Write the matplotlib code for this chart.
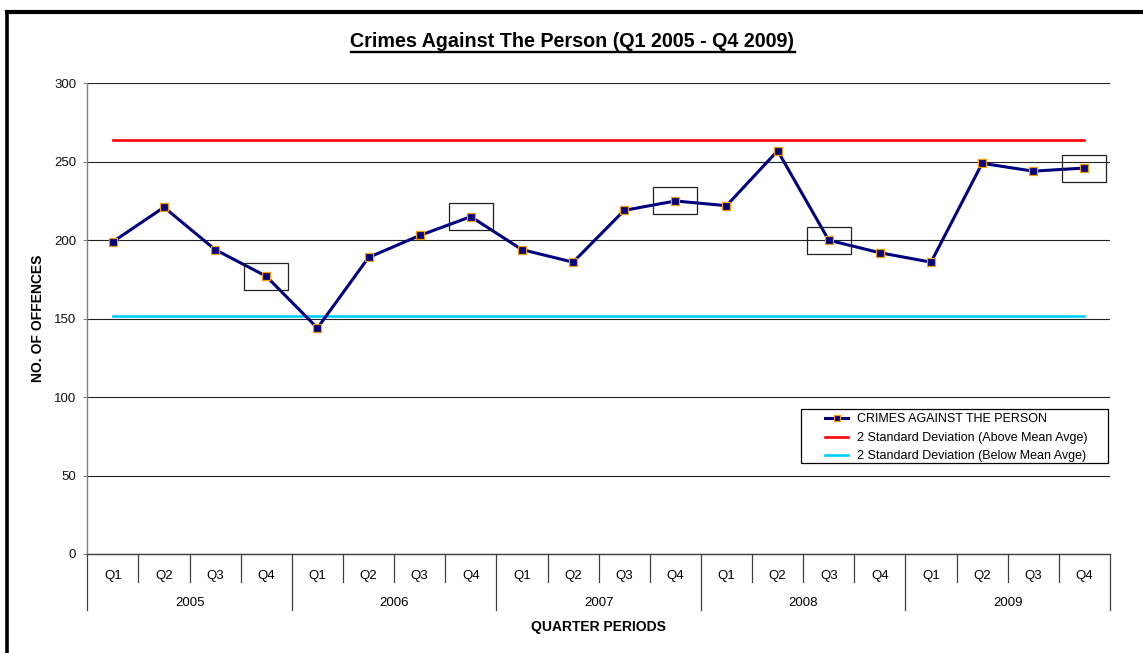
import matplotlib
matplotlib.use("Agg")
import matplotlib.pyplot as plt
from matplotlib.patches import Rectangle
from matplotlib.lines import Line2D

plt.rcParams['font.family'] = ['Liberation Sans', 'DejaVu Sans']

# data
years = ['2005', '2006', '2007', '2008', '2009']
quarters = ['Q1', 'Q2', 'Q3', 'Q4']
offences = [199, 221, 194, 177, 144, 189, 203, 215, 194, 186,
            219, 225, 222, 257, 200, 192, 186, 249, 244, 246]
upper_2sd = 264
lower_2sd = 152
boxed = [3, 7, 11, 14, 19]  # points highlighted with a box

W, H = 1143, 653
fig = plt.figure(figsize=(W / 100, H / 100), dpi=100)
ax = fig.add_axes([87.3 / W, 1 - 554 / H, (1110 - 87.3) / W, (554 - 83.3) / H])

n = len(offences)
x = list(range(n))

l1, = ax.plot(x, offences, color='#000080', lw=2.2, marker='s', ms=6,
              mfc='#000080', mec='#FF9900', mew=0.9, zorder=4,
              label='CRIMES AGAINST THE PERSON')
l2, = ax.plot([0, n - 1], [upper_2sd, upper_2sd], color='#FF0000', lw=1.9, zorder=3,
              label='2 Standard Deviation (Above Mean Avge)')
l3, = ax.plot([0, n - 1], [lower_2sd, lower_2sd], color='#00CCFF', lw=1.9, zorder=3,
              label='2 Standard Deviation (Below Mean Avge)')

for i in boxed:
    ax.add_patch(Rectangle((i - 0.43, offences[i] - 8.6), 0.86, 17.2, fill=False,
                           ec='#222222', lw=0.9, zorder=5))

ax.set_xlim(-0.5, n - 0.5)
ax.set_ylim(0, 300)
ax.set_yticks(range(0, 301, 50))
ax.yaxis.grid(True, color='#222222', lw=0.8)
ax.set_axisbelow(True)
ax.tick_params(axis='y', length=3, width=0.8, color='#808080', pad=5,
               labelsize=9.5, labelcolor='#111111')

for s in ['top', 'right']:
    ax.spines[s].set_visible(False)
ax.spines['left'].set_color('#808080')
ax.spines['bottom'].set_color('#404040')
ax.spines['left'].set_linewidth(1.0)
ax.spines['bottom'].set_linewidth(1.0)

# two-level category axis
ax.set_xticks([])
tr = ax.get_xaxis_transform()
ah = 554 - 83.3
for b in range(n + 1):
    xb = b - 0.5
    if b % 4 == 0:
        ax.plot([xb, xb], [0, -56 / ah], color='#404040', lw=0.9, transform=tr, clip_on=False)
    else:
        ax.plot([xb, xb], [0, -28 / ah], color='#404040', lw=0.9, transform=tr, clip_on=False)
for i in range(n):
    ax.text(i, -22 / ah, quarters[i % 4], transform=tr, ha='center', va='center', fontsize=9.5)
for k, yr in enumerate(years):
    ax.text(k * 4 + 1.5, -49 / ah, yr, transform=tr, ha='center', va='center', fontsize=9.5)

fig.text(598 / W, 1 - 627 / H, 'QUARTER PERIODS', ha='center', va='center',
         fontsize=10, fontweight='bold')
fig.text(38 / W, 1 - 318.7 / H, 'NO. OF OFFENCES', ha='center', va='center',
         rotation=90, fontsize=10, fontweight='bold')

title = fig.text(572.5 / W, 1 - 47.3 / H, 'Crimes Against The Person (Q1 2005 - Q4 2009)',
                 ha='center', va='baseline', fontsize=14.2, fontweight='bold')

# legend with a plain rectangular frame
fig.patches.append(Rectangle((800.5 / W, 1 - 463.3 / H), (1108.3 - 800.5) / W, 54 / H,
                             transform=fig.transFigure, fill=False, ec='black', lw=0.9))
fig.legend(handles=[l1, l2, l3], loc='center left',
           bbox_to_anchor=(825 / W, 1 - 438 / H), frameon=False, fontsize=9,
           borderpad=0, borderaxespad=0, handlelength=1.85, handletextpad=0.7,
           labelspacing=0.52, markerscale=0.8)

# outer border (only top and left are inside the picture)
fig.lines.append(Line2D([6.5 / W, 6.5 / W], [0, 1 - 12 / H], transform=fig.transFigure,
                        color='black', lw=2.6))
fig.lines.append(Line2D([6.5 / W, 1], [1 - 12 / H, 1 - 12 / H], transform=fig.transFigure,
                        color='black', lw=3.0))

# underline the title
fig.canvas.draw()
bb = title.get_window_extent()
uy = H - 51.5
fig.lines.append(Line2D([bb.x0 / W, bb.x1 / W], [uy / H, uy / H], transform=fig.transFigure,
                        color='black', lw=1.7))

fig.savefig('out.png', dpi=100)
